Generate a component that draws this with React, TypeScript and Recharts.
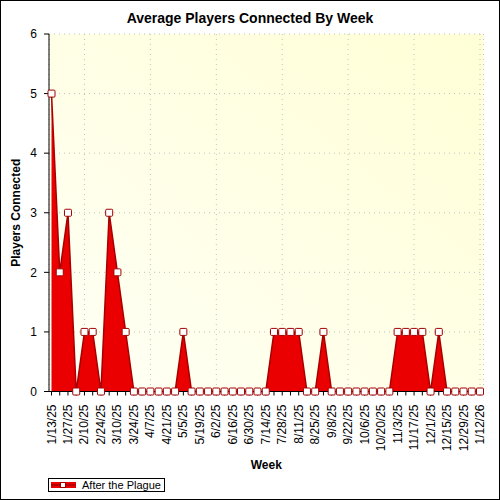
import React from 'react';
import { AreaChart, Area, XAxis, YAxis, CartesianGrid } from 'recharts';

const weeks = [
  '1/13/25', '1/20/25', '1/27/25', '2/3/25', '2/10/25', '2/17/25', '2/24/25', '3/3/25', '3/10/25', '3/17/25',
  '3/24/25', '3/31/25', '4/7/25', '4/14/25', '4/21/25', '4/28/25', '5/5/25', '5/12/25', '5/19/25', '5/26/25',
  '6/2/25', '6/9/25', '6/16/25', '6/23/25', '6/30/25', '7/7/25', '7/14/25', '7/21/25', '7/28/25', '8/4/25',
  '8/11/25', '8/18/25', '8/25/25', '9/1/25', '9/8/25', '9/15/25', '9/22/25', '9/29/25', '10/6/25', '10/13/25',
  '10/20/25', '10/27/25', '11/3/25', '11/10/25', '11/17/25', '11/24/25', '12/1/25', '12/8/25', '12/15/25', '12/22/25',
  '12/29/25', '1/5/26', '1/12/26',
];

const players = [
  5, 2, 3, 0, 1, 1, 0, 3, 2, 1,
  0, 0, 0, 0, 0, 0, 1, 0, 0, 0,
  0, 0, 0, 0, 0, 0, 0, 1, 1, 1,
  1, 0, 0, 1, 0, 0, 0, 0, 0, 0,
  0, 0, 1, 1, 1, 1, 0, 1, 0, 0,
  0, 0, 0,
];

// labelled weeks: every second week
const labelWeeks = weeks.filter((_, i) => i % 2 === 0);
const yTicks = [0, 1, 2, 3, 4, 5, 6];
const yMinorTicks = [0, 0.2, 0.4, 0.6, 0.8, 1, 1.2, 1.4, 1.6, 1.8, 2, 2.2, 2.4, 2.6, 2.8, 3, 3.2, 3.4, 3.6, 3.8, 4, 4.2, 4.4, 4.6, 4.8, 5, 5.2, 5.4, 5.6, 5.8, 6];

const data = weeks.map((week, i) => ({ week, players: players[i] }));

const FONT = '"Liberation Sans", Arial, sans-serif';
const xPad = { left: 2.5, right: 3.5 };

const WeekTick = (props: any) => {
  const { x, y, payload, index } = props;
  if (index % 2 !== 0) return <g />;
  const ty = y + 1;
  return (
    <text
      x={x}
      y={ty}
      transform={`rotate(-90, ${x}, ${ty})`}
      textAnchor="end"
      dominantBaseline="central"
      fontSize={12}
      fontFamily={FONT}
      fill="#000"
    >
      {payload.value}
    </text>
  );
};

const NoLabel = () => <g />;

const SquareDot = (props: any) => {
  const { cx, cy, index } = props;
  if (cx == null || cy == null) return <g key={index} />;
  return <rect key={index} x={cx - 3.5} y={cy - 3.5} width={7} height={7} rx={1} fill="#fff" stroke="#a00000" strokeWidth={1} />;
};

const YTitle = (props: any) => {
  const { viewBox } = props;
  const cx = 16;
  const cy = viewBox.y + viewBox.height / 2;
  return (
    <text
      x={cx}
      y={cy}
      transform={`rotate(-90, ${cx}, ${cy})`}
      textAnchor="middle"
      dominantBaseline="central"
      fontSize={12}
      fontWeight="bold"
      fontFamily={FONT}
      fill="#000"
    >
      Players Connected
    </text>
  );
};

const XTitle = (props: any) => {
  const { viewBox } = props;
  const cx = viewBox.x + viewBox.width / 2;
  return (
    <text x={cx} y={469} textAnchor="middle" fontSize={12} fontWeight="bold" fontFamily={FONT} fill="#000">
      Week
    </text>
  );
};

export default function App() {
  return (
    <div style={{ position: 'absolute', left: 0, top: 0, width: 500, height: 500, background: '#fff', fontFamily: FONT }}>
      <div
        style={{
          position: 'absolute', left: 0, top: 10, width: 500, textAlign: 'center',
          fontSize: 14, lineHeight: '16px', fontWeight: 'bold', color: '#000',
        }}
      >
        Average Players Connected By Week
      </div>
      <AreaChart width={500} height={500} data={data} margin={{ top: 34, right: 16.5, left: 0, bottom: 0 }}>
        <defs>
          <linearGradient id="plotBg" x1="0" y1="1" x2="1" y2="0">
            <stop offset="0%" stopColor="#fffff6" />
            <stop offset="100%" stopColor="#ffffd6" />
          </linearGradient>
        </defs>
        <XAxis
          xAxisId="main"
          dataKey="week"
          interval={0}
          padding={xPad}
          height={108.5}
          tickSize={4}
          tickMargin={8}
          tick={<WeekTick />}
          stroke="#000"
          label={<XTitle />}
        />
        {/* hidden axis only used to place vertical grid lines at labelled weeks */}
        <XAxis xAxisId="grid" dataKey="week" hide height={0} ticks={labelWeeks} padding={xPad} />
        <CartesianGrid
          xAxisId="grid"
          yAxisId="main"
          fill="url(#plotBg)"
          stroke="#c0c0c0"
          strokeDasharray="1 4"
        />
        <XAxis
          xAxisId="top"
          dataKey="week"
          orientation="top"
          mirror
          height={0}
          interval={0}
          padding={xPad}
          tickSize={3}
          tick={<NoLabel />}
          stroke="#000"
        />
        <YAxis
          yAxisId="main"
          domain={[0, 6]}
          ticks={yTicks}
          width={49}
          tickSize={5}
          tickMargin={7}
          stroke="#000"
          tick={{ fontSize: 12, fill: '#000', fontFamily: FONT }}
          label={<YTitle />}
        />
        <YAxis
          yAxisId="minor"
          domain={[0, 6]}
          ticks={yMinorTicks}
          interval={0}
          mirror
          width={0}
          tickSize={3}
          tick={<NoLabel />}
          axisLine={false}
          stroke="#000"
        />
        <YAxis
          yAxisId="right"
          orientation="right"
          domain={[0, 6]}
          ticks={yMinorTicks}
          interval={0}
          mirror
          width={0}
          tickSize={3}
          tick={<NoLabel />}
          stroke="#000"
        />
        <Area
          xAxisId="main"
          yAxisId="main"
          type="linear"
          dataKey="players"
          stroke="#a80000"
          strokeWidth={1.5}
          fill="#ea0000"
          fillOpacity={1}
          dot={<SquareDot />}
          activeDot={false}
          isAnimationActive={false}
        />
      </AreaChart>
      <div
        style={{
          position: 'absolute', left: 48, top: 478, width: 117, height: 14, boxSizing: 'border-box',
          border: '1px solid #000', background: '#fff', display: 'flex', alignItems: 'center',
        }}
      >
        <svg width={28} height={12} style={{ marginLeft: 1 }}>
          <rect x={1} y={3} width={25} height={6} fill="#ea0000" />
          <line x1={1} y1={6} x2={26} y2={6} stroke="#a80000" strokeWidth={1.5} />
          <rect x={10.5} y={3.5} width={5} height={5} fill="#fff" stroke="#a00000" strokeWidth={1} />
        </svg>
        <span style={{ fontSize: 11, marginLeft: 4, color: '#000', whiteSpace: 'nowrap' }}>After the Plague</span>
      </div>
      <div style={{ position: 'absolute', left: 0, top: 0, width: 500, height: 500, boxSizing: 'border-box', border: '1px solid #000', pointerEvents: 'none' }} />
    </div>
  );
}
